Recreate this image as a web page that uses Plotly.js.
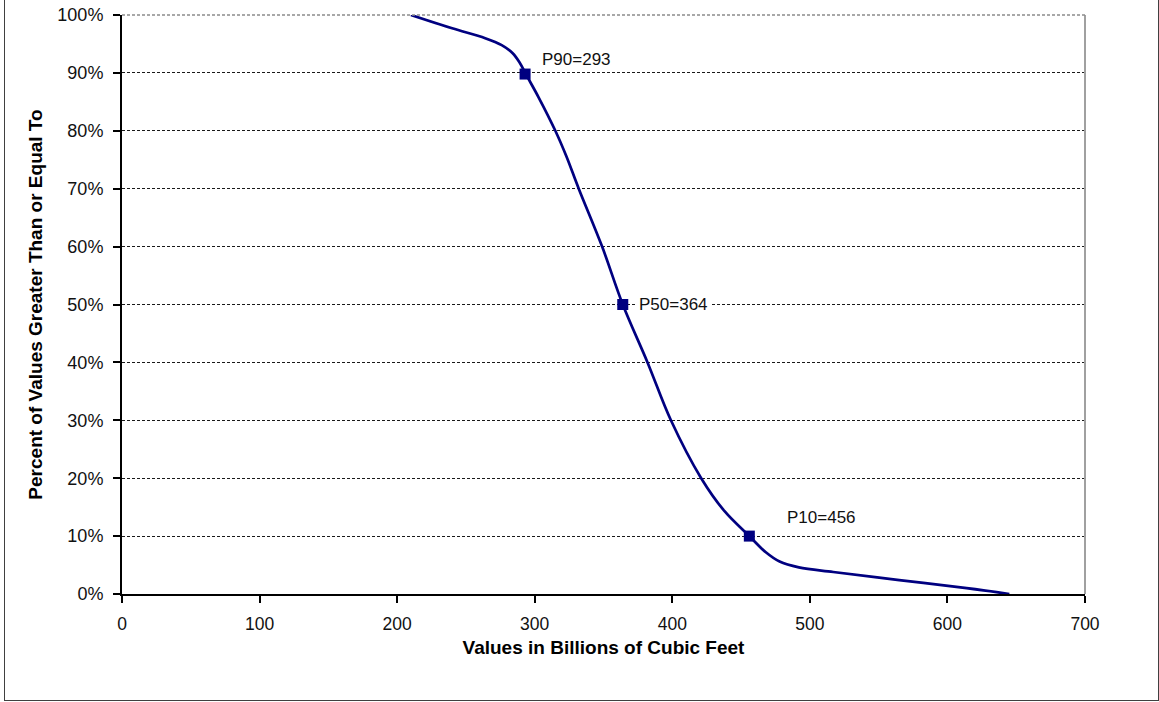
<!DOCTYPE html>
<html>
<head>
<meta charset="utf-8">
<script src="https://cdn.plot.ly/plotly-3.0.1.min.js"></script>
<style>
  html, body { margin: 0; padding: 0; background: #ffffff; }
  #wrap { position: relative; width: 1159px; height: 702px; overflow: hidden; }
  #frame { position: absolute; left: 4px; top: -1px; width: 1153px; height: 700px; border: 1px solid #404040; pointer-events: none; }
  #chart { position: absolute; left: 0; top: 0; width: 1159px; height: 702px; }
</style>
</head>
<body>
<div id="wrap">
  <div id="chart"></div>
  <div id="frame"></div>
</div>
<script>
// Exceedance curve (values in billions of cubic feet vs. percent >=)
const curveValues  = [210, 240, 264, 276, 284, 289, 294, 303, 315, 323, 332, 349, 364, 382, 399, 421, 438, 456, 468, 478, 492, 517, 565, 614, 645];
const curvePercent = [1.0, 0.977, 0.960, 0.948, 0.934, 0.918, 0.896, 0.857, 0.80, 0.756, 0.70, 0.60, 0.50, 0.40, 0.30, 0.20, 0.143, 0.10, 0.072, 0.056, 0.046, 0.038, 0.024, 0.010, 0.0];

// Highlighted percentile points
const pctValues  = [293, 364, 456];
const pctPercent = [0.898, 0.50, 0.10];
const pctLabels  = ['P90=293', 'P50=364', 'P10=456'];

// Axis ticks
const xTickVals = [0, 100, 200, 300, 400, 500, 600, 700];
const yTickVals = [0, 0.1, 0.2, 0.3, 0.4, 0.5, 0.6, 0.7, 0.8, 0.9, 1.0];
const yTickText = ['0%', '10%', '20%', '30%', '40%', '50%', '60%', '70%', '80%', '90%', '100%'];

const FONT = '"Liberation Sans", Arial, Helvetica, sans-serif';
const NAVY = '#000080';

const traces = [
  {
    type: 'scatter', mode: 'lines',
    x: curveValues, y: curvePercent,
    line: { color: NAVY, width: 2.7, shape: 'spline', smoothing: 1 },
    hoverinfo: 'skip', showlegend: false
  },
  {
    type: 'scatter', mode: 'markers',
    x: pctValues, y: pctPercent,
    marker: { symbol: 'square', size: 11, color: NAVY },
    showlegend: false
  }
];

// label offsets (style) relative to each percentile marker
const labelShift = [
  { xshift: 14, yshift: 15, bg: 'rgba(255,255,255,0)' },
  { xshift: 13, yshift: 0, bg: '#ffffff' },
  { xshift: 35, yshift: 19, bg: 'rgba(255,255,255,0)' }
];

const annotations = pctLabels.map((t, i) => ({
  x: pctValues[i], y: pctPercent[i], xref: 'x', yref: 'y',
  text: t, showarrow: false, xanchor: 'left', yanchor: 'middle',
  xshift: labelShift[i].xshift, yshift: labelShift[i].yshift,
  bgcolor: labelShift[i].bg, borderpad: 2,
  font: { family: FONT, size: 17, color: '#111111' }
}));

const layout = {
  width: 1159, height: 702,
  margin: { l: 122, r: 74, t: 15, b: 108 },
  paper_bgcolor: 'rgba(0,0,0,0)',
  plot_bgcolor: '#ffffff',
  showlegend: false,
  font: { family: FONT, color: '#000000' },
  xaxis: {
    range: [0, 700], tickvals: xTickVals, ticktext: xTickVals.map(String),
    showline: true, linecolor: '#000000', linewidth: 2,
    ticks: 'outside', ticklen: 7, tickwidth: 2, tickcolor: '#000000',
    showgrid: false, zeroline: false,
    tickfont: { family: FONT, size: 17.5, color: '#111111' },
    ticklabelstandoff: 6,
    title: { text: '<b>Values in Billions of Cubic Feet</b>', font: { family: FONT, size: 19, color: '#000000' }, standoff: 8 }
  },
  yaxis: {
    range: [0, 1.0], tickvals: yTickVals, ticktext: yTickText,
    showline: true, linecolor: '#000000', linewidth: 2,
    ticks: 'outside', ticklen: 7, tickwidth: 2, tickcolor: '#000000',
    showgrid: true, gridcolor: '#1a1a1a', gridwidth: 1, griddash: '3px,2px',
    zeroline: false,
    tickfont: { family: FONT, size: 18, color: '#111111' },
    ticklabelstandoff: 6,
    title: { text: '<b>Percent of Values Greater Than or Equal To</b>', font: { family: FONT, size: 19, color: '#000000' }, standoff: 10 }
  },
  shapes: [
    { type: 'line', xref: 'paper', yref: 'paper', x0: 1, x1: 1, y0: 0, y1: 1, line: { color: '#a0a0a0', width: 2 }, layer: 'above' },
    { type: 'line', xref: 'paper', yref: 'paper', x0: 0, x1: 1, y0: 1, y1: 1, line: { color: '#8c8c8c', width: 1.5, dash: '3px,2px' }, layer: 'above' }
  ],
  annotations: annotations
};

Plotly.newPlot('chart', traces, layout, { displayModeBar: false, staticPlot: true });
</script>
</body>
</html>
